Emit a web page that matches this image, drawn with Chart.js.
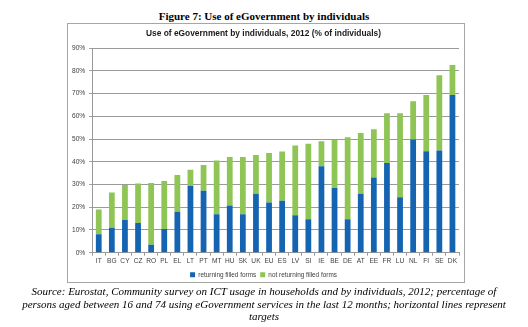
<!DOCTYPE html>
<html>
<head>
<meta charset="utf-8">
<script src="https://cdn.jsdelivr.net/npm/chart.js@4"></script>
<style>
  html, body { margin: 0; padding: 0; background: #fff; }
  body { width: 528px; height: 327px; position: relative; overflow: hidden; }
  #fig { position: absolute; left: 0; width: 528px; top: 10px; text-align: center;
         font-family: "Liberation Serif", serif; font-weight: bold; font-size: 11px; color: #000; }
  #box { position: absolute; left: 67px; top: 23px; width: 398px; height: 260px;
         border: 1px solid #a6a6a6; box-sizing: border-box; overflow: visible; }
  #box canvas { display: block; position: absolute; left: 0; top: 0; }
  #cap { position: absolute; left: 0; width: 528px; top: 285px; text-align: center;
         font-family: "Liberation Serif", serif; font-style: italic; font-size: 11px;
         line-height: 12.6px; color: #000; white-space: nowrap; }
</style>
</head>
<body>
<div id="fig">Figure 7: Use of eGovernment by individuals</div>
<div id="box"><canvas id="c" width="396" height="264"></canvas></div>
<div id="cap">Source: Eurostat, Community survey on ICT usage in households and by individuals, 2012; percentage of<br>persons aged between 16 and 74 using eGovernment services in the last 12 months; horizontal lines represent<br>targets</div>
<script>
const categories = ["IT","BG","CY","CZ","RO","PL","EL","LT","PT","MT","HU","SK","UK","EU","ES","LV","SI","IE","BE","DE","AT","EE","FR","LU","NL","FI","SE","DK"];
const returningForms = [8.1,11.0,14.4,13.1,3.5,10.4,18.0,29.3,27.2,16.9,20.8,16.9,25.9,22.1,22.8,16.5,14.7,38.0,28.4,14.7,25.9,33.1,39.5,24.4,49.8,44.6,45.0,69.4];
const notReturningForms = [10.9,15.5,15.4,17.3,27.1,21.1,16.2,7.2,11.4,23.6,21.3,25.2,17.1,21.8,21.7,30.6,33.2,11.0,21.3,36.1,26.8,21.2,21.8,36.9,16.8,24.8,33.1,13.2];
const yTicks = [0,10,20,30,40,50,60,70,80,90];
const seriesNames = ["returning filled forms","not returning filled forms"];
const chartTitle = "Use of eGovernment by individuals, 2012 (% of individuals)";

new Chart(document.getElementById('c'), {
  type: 'bar',
  data: {
    labels: categories,
    datasets: [
      { label: seriesNames[0], data: returningForms, backgroundColor: '#1464b2', barPercentage: 0.44, categoryPercentage: 1 },
      { label: seriesNames[1], data: notReturningForms, backgroundColor: '#8fc555', barPercentage: 0.44, categoryPercentage: 1 }
    ]
  },
  options: {
    responsive: false,
    animation: false,
    layout: { padding: { left: 0, right: 5, top: 0, bottom: 0 } },
    plugins: {
      title: { display: true, text: chartTitle, color: '#1a1a1a',
               font: { family: 'Liberation Sans', size: 8.4, weight: 'bold' },
               padding: { top: 5, bottom: 9 } },
      legend: { position: 'bottom',
                labels: { boxWidth: 5, boxHeight: 5, color: '#404040', padding: 4,
                          font: { family: 'Liberation Sans', size: 6.4 } } },
      tooltip: { enabled: false }
    },
    scales: {
      x: { stacked: true,
           grid: { display: true, drawOnChartArea: false, drawTicks: true, tickLength: 3, color: '#999', offset: true },
           border: { color: '#999' },
           ticks: { color: '#404040', font: { family: 'Liberation Sans', size: 6.6 }, maxRotation: 0, autoSkip: false, padding: 2 } },
      y: { stacked: true, min: 0, max: 90,
           afterBuildTicks: (s) => { s.ticks = yTicks.map(v => ({ value: v })); },
           grid: { color: '#9a9a9a', tickLength: 3 },
           border: { color: '#999' },
           ticks: { color: '#404040', font: { family: 'Liberation Sans', size: 6.6 }, padding: 4,
                    callback: (v) => v + '%' } }
    }
  }
});
</script>
</body>
</html>
